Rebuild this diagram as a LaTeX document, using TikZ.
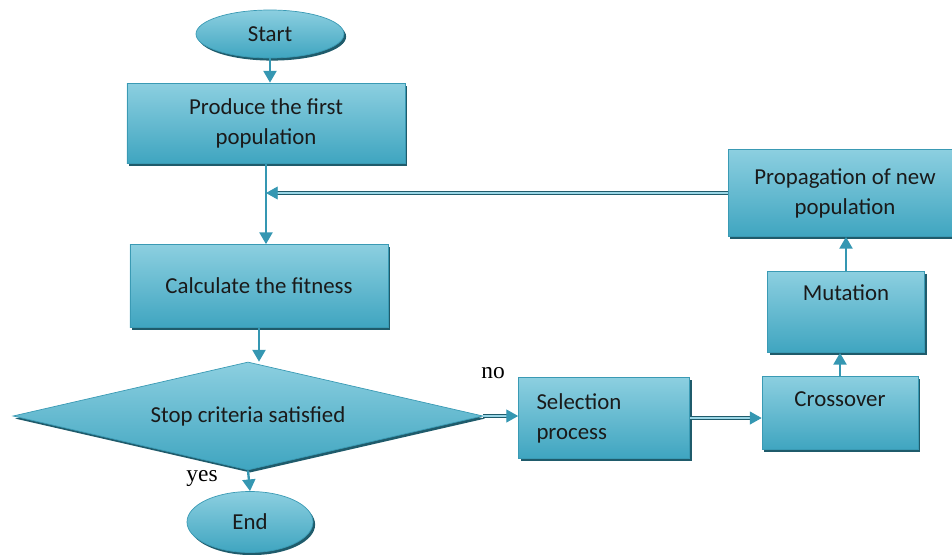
\documentclass[tikz,border=0pt]{standalone}
\usepackage{fontspec}
\setmainfont{Carlito}
\newfontfamily\labfont{Liberation Serif}
\usetikzlibrary{shapes.geometric,arrows.meta,shadows}
\definecolor{boxtop}{HTML}{8CCFE0}
\definecolor{boxbot}{HTML}{3FA5C0}
\definecolor{boxedge}{HTML}{3A9AB4}
\definecolor{boxshadow}{HTML}{1F5B6B}
\definecolor{linecol}{HTML}{3597B2}
\definecolor{linelight}{HTML}{9AD6E6}
\definecolor{txt}{HTML}{1A1A1A}
\begin{document}
\begin{tikzpicture}[x=0.03cm,y=-0.03cm,
    shapebase/.style={draw=boxedge, line width=0.6pt, top color=boxtop, bottom color=boxbot,
        text=txt, inner sep=0pt, font=\fontsize{19.5}{25.5}\selectfont,
        drop shadow={shadow xshift=1.8pt, shadow yshift=-2.2pt, fill=boxshadow, opacity=1}},
    procbox/.style={shapebase, rectangle, align=center},
    termbox/.style={shapebase, ellipse},
    decbox/.style={shapebase, diamond, aspect=4.35},
    flow/.style={draw=linecol, line width=2pt, -{Triangle[length=10pt,width=11pt]}},
    flowd/.style={draw=boxshadow, double=linelight, double distance=1.2pt, line width=0.8pt,
        -{Triangle[length=10pt,width=11pt,color=linecol]}},
    lab/.style={font=\labfont\fontsize{20}{24}\selectfont, text=black}]
    \useasboundingbox (0,0) rectangle (952,554);
    % main column
    \node[termbox, minimum width=4.44cm, minimum height=1.44cm] (start) at (270,34) {Start};
    \node[procbox, minimum width=8.34cm, minimum height=2.4cm] (prod) at (266,123) {Produce the first\\population};
    \node[procbox, minimum width=7.74cm, minimum height=2.49cm] (calc) at (259,286) {Calculate the fitness};
    \node[decbox, minimum width=14.1cm, minimum height=3.24cm] (stop) at (248,416) {Stop criteria satisfied};
    \node[termbox, minimum width=3.78cm, minimum height=1.83cm] (end) at (250,522) {End};
    % loop
    \node[procbox, minimum width=5.13cm, minimum height=2.43cm, text width=4.05cm, align=left] (sel) at (604,418) {Selection\\process};
    \node[procbox, minimum width=4.68cm, minimum height=2.19cm, text depth=23pt] (cross) at (840,413) {Crossover};
    \node[procbox, minimum width=4.71cm, minimum height=2.43cm, text depth=33pt] (mut) at (846,312) {Mutation};
    \node[procbox, minimum width=7.02cm, minimum height=2.61cm] (prop) at (845,193) {Propagation of new\\population};
    % labels
    \node[lab] (no) at (493,373) {no};
    \node[lab] (yes) at (202,478) {yes};
    % connectors
    \draw[flow] (start.south) -- (start.south |- prod.north);
    \draw[flow] (prod.south) -- (prod.south |- calc.north);
    \coordinate (join) at (prod.south |- prop.west);
    \draw[flowd] (prop.west) -- (join);
    \draw[flow] (calc.south) -- (calc.south |- stop.north);
    \draw[flow] (stop.south) -- (end.north);
    \draw[flowd] (stop.east) -- (stop.east -| sel.west);
    \draw[flowd] (sel.east) -- (sel.east -| cross.west);
    \draw[flow] (cross.north) -- (cross.north |- mut.south);
    \draw[flow] (mut.north) -- (mut.north |- prop.south);
\end{tikzpicture}
\end{document}
